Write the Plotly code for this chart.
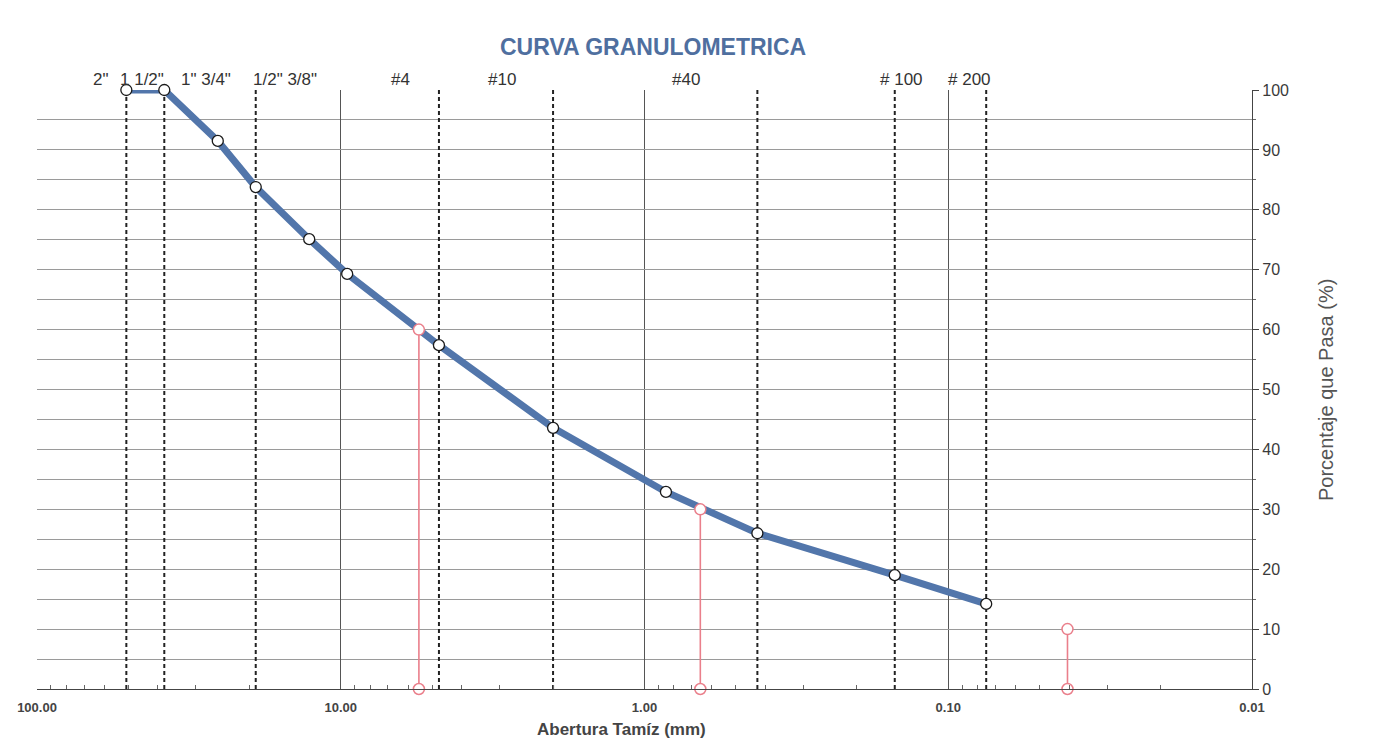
import numpy as np
import plotly.graph_objects as go

# ---- data ----
abertura_mm = [50.8, 38.1, 25.4, 19.05, 12.7, 9.525, 4.75, 2.0, 0.85, 0.425, 0.15, 0.075]
pct_pasa = [100, 100, 91.5, 83.8, 75.1, 69.3, 57.4, 43.6, 32.9, 26.0, 19.0, 14.2]

# dashed reference sieves
tamiz_ref_mm = [50.8, 38.1, 19.05, 4.75, 2.0, 0.425, 0.15, 0.075]

# sieve labels (text, position in mm)
tamiz_labels = ['2"', '1 1/2"', '1" 3/4"', '1/2" 3/8"', '#4', '#10', '#40', '# 100', '# 200']
tamiz_label_mm = [61.5, 45.0, 27.7, 15.3, 6.35, 2.95, 0.73, 0.142, 0.085]

# characteristic diameters D60, D30, D10
d_names = ["D60", "D30", "D10"]
d_mm = [5.53, 0.655, 0.0405]
d_pct = [60, 30, 10]

x_tick_vals = [100, 10, 1, 0.1, 0.01]
x_tick_text = ["100.00", "10.00", "1.00", "0.10", "0.01"]

FONT = "Liberation Sans, Arial, sans-serif"

fig = go.Figure()

# dashed sieve lines
dx, dy = [], []
for v in tamiz_ref_mm:
    dx += [v, v, None]
    dy += [0, 100, None]
fig.add_trace(go.Scatter(x=dx, y=dy, mode="lines",
                         line=dict(color="#222222", width=2, dash="4px,3px"),
                         hoverinfo="skip", showlegend=False))

# granulometric curve
fig.add_trace(go.Scatter(x=abertura_mm, y=pct_pasa, mode="lines+markers",
                         line=dict(color="#5276ab", width=7),
                         marker=dict(symbol="circle", size=11, color="white",
                                     line=dict(color="#1a1a1a", width=1.3)),
                         cliponaxis=False, showlegend=False))

# red D lines (drawn on top)
for name, xv, yv in zip(d_names, d_mm, d_pct):
    fig.add_trace(go.Scatter(x=[xv, xv], y=[0, yv], mode="lines+markers", name=name,
                             line=dict(color="#ea7f8b", width=1.6),
                             marker=dict(symbol="circle", size=11, color="white",
                                         line=dict(color="#ea7f8b", width=1.5)),
                             cliponaxis=False, showlegend=False))

minor_x = [m * 10.0 ** e for e in range(-2, 2) for m in range(2, 10)]

fig.update_layout(
    width=1362, height=738,
    margin=dict(l=29, r=118, t=82, b=57, autoexpand=False),
    paper_bgcolor="white", plot_bgcolor="white",
    font=dict(family=FONT, color="#333333"),
    xaxis=dict(type="log", range=[2, -2], tickvals=x_tick_vals,
               ticktext=["<b>%s</b>" % t for t in x_tick_text],
               showgrid=True, gridcolor="#555555", gridwidth=1,
               showline=True, linecolor="#444444", linewidth=1.2,
               ticks="", ticklabelstandoff=6, automargin=False,
               tickfont=dict(size=13, color="#444444", family=FONT),
               minor=dict(tickvals=minor_x, ticks="inside", ticklen=4, tickcolor="#666666", showgrid=False),
               zeroline=False),
    yaxis=dict(side="right", range=[0, 100], dtick=10, showgrid=True,
               gridcolor="#9a9a9a", gridwidth=1, automargin=False,
               showline=True, linecolor="#444444", linewidth=1.2,
               ticks="outside", ticklen=6, tickcolor="#444444",
               tickfont=dict(size=16, color="#3a3a3a"),
               minor=dict(dtick=5, showgrid=True, gridcolor="#9a9a9a", ticks="outside", ticklen=3, tickcolor="#666666"),
               zeroline=False),
)

# title
fig.add_annotation(text="<b>CURVA GRANULOMETRICA</b>", xref="paper", yref="paper",
                   x=(653 - 37) / 1215, y=1, yanchor="bottom", yshift=28, showarrow=False,
                   font=dict(size=23, color="#4f6f9f"))
# x title
fig.add_annotation(text="<b>Abertura Tamíz (mm)</b>", xref="paper", yref="paper",
                   x=(621 - 37) / 1215, y=0, yanchor="top", yshift=-29, showarrow=False,
                   font=dict(size=17, color="#444444"))
# y title (right side, vertical)
fig.add_annotation(text="Porcentaje que Pasa (%)", xref="paper", yref="paper",
                   x=(1326 - 37) / 1215, y=(689 - 390) / 599, xanchor="center", yanchor="middle",
                   textangle=-90, showarrow=False, font=dict(size=20, color="#555555"))
# sieve labels
for t, v in zip(tamiz_labels, tamiz_label_mm):
    fig.add_annotation(text=t, x=np.log10(v), xref="x", yref="paper", y=1, yanchor="bottom",
                       yshift=-1, showarrow=False, font=dict(size=17, color="#333333"))

fig.write_html("out.html")
